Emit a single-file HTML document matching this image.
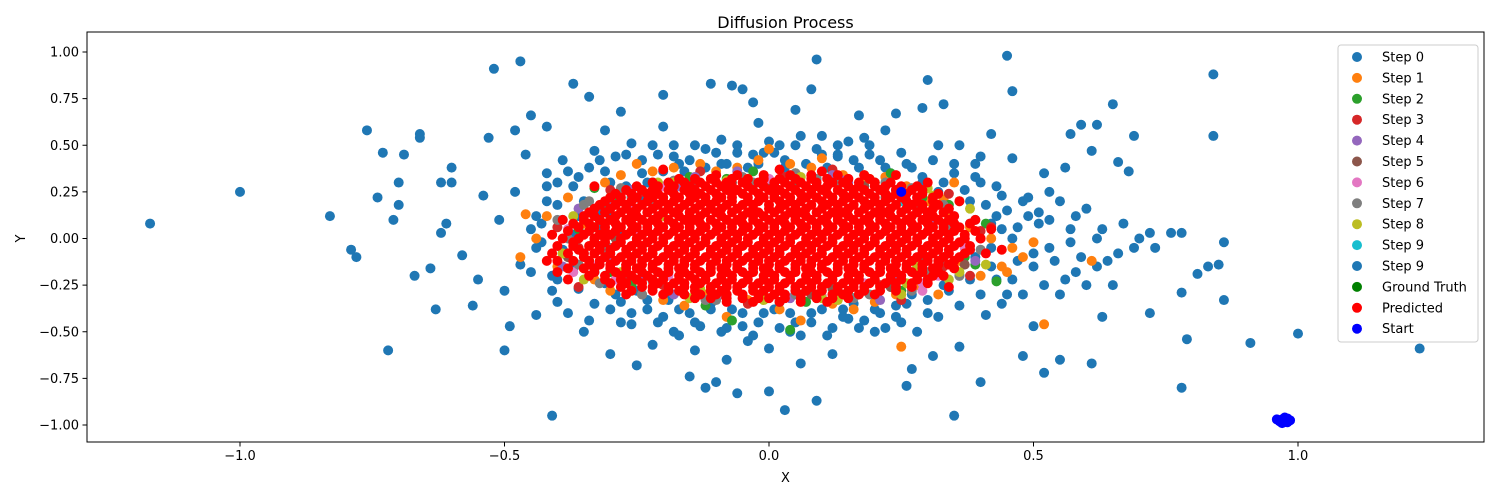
<!DOCTYPE html>
<html><head><meta charset="utf-8">
<style>
html,body{margin:0;padding:0;background:#fff;}
svg{display:block;font-family:"DejaVu Sans","Liberation Sans",sans-serif;}
</style></head>
<body>
<svg id="chart" width="1500" height="500" viewBox="0 0 1500 500" xmlns="http://www.w3.org/2000/svg">
<rect x="0" y="0" width="1500" height="500" fill="#fff"/>
<text x="785.5" y="28" font-size="16" text-anchor="middle" fill="#000">Diffusion Process</text>
<g id="plot"></g>
<g id="axes"></g>
<text x="785.5" y="482" font-size="13" text-anchor="middle">X</text>
<text x="25" y="238.5" font-size="13" text-anchor="middle" transform="rotate(-90 25 238.5)">Y</text>
<g id="legend"></g>
</svg>
<script>
// ---- data ----
const xTicks = [-1.0, -0.5, 0.0, 0.5, 1.0];
const xTickLabels = ["\u22121.0", "\u22120.5", "0.0", "0.5", "1.0"];
const yTicks = [1.0, 0.75, 0.5, 0.25, 0.0, -0.25, -0.5, -0.75, -1.0];
const yTickLabels = ["1.00", "0.75", "0.50", "0.25", "0.00", "\u22120.25", "\u22120.50", "\u22120.75", "\u22121.00"];
const legendLabels = ["Step 0","Step 1","Step 2","Step 3","Step 4","Step 5","Step 6","Step 7","Step 8","Step 9","Step 9","Ground Truth","Predicted","Start"];
const legendColors = ["#1f77b4","#ff7f0e","#2ca02c","#d62728","#9467bd","#8c564b","#e377c2","#7f7f7f","#bcbd22","#17becf","#1f77b4","#008000","#ff0000","#0000ff"];

const step0 = [[-1.17,0.08],[-1.0,0.25],[-0.83,0.12],[-0.79,-0.06],[-0.78,-0.1],[-0.76,0.58],[-0.74,0.22],[-0.73,0.46],[-0.72,-0.6],[-0.7,0.3],[-0.7,0.18],[-0.71,0.1],[-0.69,0.45],[-0.67,-0.2],[-0.66,0.56],[-0.66,0.54],[-0.64,-0.16],[-0.63,-0.38],[-0.62,0.3],[-0.62,0.03],[-0.6,0.38],[-0.6,0.3],[-0.61,0.08],[-0.58,-0.09],[-0.56,-0.36],[-0.55,-0.22],[-0.54,0.23],[-0.53,0.54],[-0.51,0.1],[-0.5,-0.28],[-0.5,-0.6],[-0.49,-0.47],[-0.48,0.58],[-0.47,0.95],[-0.52,0.91],[-0.48,0.25],[-0.47,-0.14],[-0.46,0.45],[-0.45,0.66],[-0.44,-0.41],[-0.43,0.08],[-0.42,0.6],[-0.41,-0.95],[-0.4,0.3],[-0.4,-0.34],[-0.38,0.36],[-0.37,0.83],[-0.36,0.12],[-0.35,-0.5],[-0.34,0.76],[-0.32,0.42],[-0.31,0.58],[-0.3,-0.62],[-0.28,-0.45],[-0.28,0.68],[-0.25,-0.68],[-0.24,0.2],[-0.22,-0.57],[-0.2,0.6],[-0.2,0.77],[-0.18,-0.5],[-0.17,0.4],[-0.15,-0.74],[-0.14,-0.6],[-0.12,-0.8],[-0.11,0.83],[-0.1,-0.77],[-0.09,0.53],[-0.08,-0.65],[-0.07,0.82],[-0.06,-0.83],[-0.05,0.8],[-0.04,-0.55],[-0.03,0.73],[-0.02,0.62],[-0.01,0.46],[0.0,-0.82],[0.0,-0.59],[0.02,0.5],[0.03,-0.92],[0.04,-0.5],[0.05,0.69],[0.06,-0.67],[0.08,0.8],[0.09,-0.87],[0.09,0.96],[0.1,0.55],[0.12,-0.62],[0.13,0.44],[0.15,-0.43],[0.17,0.66],[0.18,0.54],[0.2,-0.5],[0.22,0.58],[0.24,0.67],[0.25,-0.45],[0.26,-0.79],[0.27,-0.7],[0.29,0.7],[0.3,0.85],[0.31,-0.63],[0.32,0.5],[0.33,0.72],[0.35,-0.95],[0.36,-0.58],[0.38,0.2],[0.39,0.4],[0.4,-0.77],[0.41,-0.41],[0.42,0.56],[0.43,-0.22],[0.44,0.23],[0.45,0.98],[0.46,0.79],[0.46,0.43],[0.48,-0.63],[0.49,0.12],[0.5,-0.47],[0.51,0.08],[0.52,-0.72],[0.53,0.25],[0.55,-0.65],[0.56,0.38],[0.57,0.56],[0.58,-0.18],[0.59,0.61],[0.6,0.16],[0.61,0.47],[0.61,-0.67],[0.62,0.61],[0.63,-0.42],[0.65,-0.25],[0.65,0.72],[0.66,0.41],[0.68,0.36],[0.69,0.55],[0.7,0.0],[0.72,0.03],[0.72,-0.4],[0.76,0.03],[0.78,0.03],[0.78,-0.29],[0.79,-0.54],[0.78,-0.8],[0.81,-0.19],[0.83,-0.15],[0.84,0.88],[0.84,0.55],[0.85,-0.14],[0.86,-0.33],[0.86,-0.02],[0.91,-0.56],[1.0,-0.51],[1.23,-0.59],[0.73,-0.05],
[-0.45,0.05],[-0.44,-0.05],[-0.42,0.2],[-0.41,-0.2],[-0.39,0.1],[-0.38,-0.1],[-0.37,0.28],[-0.36,-0.27],[-0.34,0.38],[-0.33,-0.35],[-0.32,0.15],[-0.3,0.3],[-0.29,-0.3],[-0.27,0.45],[-0.26,-0.4],[-0.24,0.35],[-0.23,-0.33],[-0.21,0.45],[-0.2,-0.42],[-0.18,0.5],[-0.17,-0.38],[-0.15,0.42],[-0.14,-0.45],[-0.12,0.48],[-0.11,-0.35],[-0.09,0.4],[-0.08,-0.48],[-0.06,0.5],[-0.05,-0.4],[-0.03,0.45],[-0.02,-0.45],[0.0,0.52],[0.01,-0.38],[0.03,0.42],[0.05,-0.45],[0.06,0.55],[0.08,-0.4],[0.1,0.45],[0.11,-0.52],[0.13,0.5],[0.14,-0.38],[0.16,0.42],[0.17,-0.48],[0.19,0.45],[0.21,-0.4],[0.22,0.38],[0.24,-0.36],[0.26,0.4],[0.27,-0.3],[0.29,0.3],[0.3,-0.4],[0.32,0.25],[0.33,-0.25],[0.35,0.35],[0.36,-0.2],[0.38,0.08],[0.39,-0.1],[0.4,0.3],[0.42,-0.05],[0.43,0.12],[0.45,-0.3],[0.46,0.0],[0.48,0.2],[0.5,-0.15],[0.52,0.35],[0.53,-0.05],[0.55,-0.3],[0.57,0.05],[0.59,-0.1],[0.62,0.0],[0.64,-0.12],[0.67,0.08],[0.69,-0.05],
[-0.44,0.12],[-0.43,-0.02],[-0.42,0.28],[-0.41,-0.28],[-0.4,0.18],[-0.39,-0.06],[-0.39,0.42],[-0.38,-0.4],[-0.37,0.02],[-0.37,-0.16],[-0.36,0.33],[-0.35,0.2],[-0.35,-0.08],[-0.34,-0.44],[-0.33,0.47],[-0.33,-0.18],[-0.32,0.05],[-0.31,0.36],[-0.31,-0.24],[-0.3,0.12],[-0.3,-0.38],[-0.29,0.44],[-0.28,0.02],[-0.28,-0.34],[-0.27,0.28],[-0.26,0.51],[-0.26,-0.46],[-0.25,-0.28],[-0.24,0.42],[-0.23,0.3],[-0.23,-0.38],[-0.22,0.5],[-0.21,-0.45],[-0.2,0.36],[-0.19,-0.33],[-0.18,0.44],[-0.17,-0.52],[-0.16,0.36],[-0.15,-0.4],[-0.14,0.5],[-0.13,-0.47],[-0.12,0.38],[-0.11,-0.38],[-0.1,0.46],[-0.09,-0.5],[-0.08,0.4],[-0.07,-0.38],[-0.06,0.46],[-0.05,-0.47],[-0.04,0.38],[-0.03,-0.52],[-0.02,0.4],[-0.01,-0.4],[0.01,0.46],[0.02,-0.48],[0.03,0.38],[0.04,-0.4],[0.05,0.5],[0.06,-0.52],[0.07,0.4],[0.08,-0.45],[0.09,0.48],[0.1,-0.38],[0.11,0.38],[0.12,-0.48],[0.13,0.45],[0.14,-0.42],[0.15,0.52],[0.16,-0.35],[0.17,0.38],[0.18,-0.44],[0.19,0.5],[0.2,-0.38],[0.21,0.42],[0.22,-0.48],[0.23,0.35],[0.24,-0.42],[0.25,0.46],[0.26,-0.35],[0.27,0.38],[0.28,-0.5],[0.29,0.33],[0.3,-0.33],[0.31,0.42],[0.32,-0.42],[0.33,0.3],[0.34,-0.28],[0.35,0.4],[0.36,-0.36],[0.37,0.26],[0.38,-0.22],[0.39,0.33],[0.4,-0.3],[0.41,0.18],[0.42,-0.15],[0.43,0.28],[0.44,-0.35],[0.45,0.15],[0.46,-0.22],[0.47,0.06],[0.48,-0.3],[0.49,0.22],[0.5,-0.08],[0.51,0.14],[0.52,-0.25],[0.53,0.1],[0.54,-0.12],[0.55,0.2],[0.56,-0.22],[0.57,-0.02],[0.58,0.12],[0.6,-0.25],[0.62,-0.15],[0.63,0.05],[0.66,-0.08],[0.4,0.44],[0.36,0.5],[-0.4,-0.22],[-0.42,0.35],[0.44,0.05],[0.47,-0.12],[0.42,0.08],[-0.45,-0.18]];

const step1 = [[-0.47,-0.1],[-0.42,0.12],[-0.4,-0.15],[-0.38,0.22],[-0.37,-0.02],[-0.35,0.08],[-0.33,-0.22],[-0.31,0.3],[-0.3,-0.28],[-0.28,0.34],[-0.27,-0.15],[-0.25,0.4],[-0.24,-0.3],[-0.22,0.36],[-0.2,-0.33],[-0.18,0.38],[-0.16,-0.36],[-0.13,0.4],[-0.12,-0.3],[-0.1,0.36],[-0.08,-0.42],[-0.06,0.38],[-0.04,-0.33],[-0.02,0.42],[0.0,0.48],[0.02,-0.38],[0.04,0.4],[0.06,-0.44],[0.08,0.38],[0.1,0.43],[0.12,-0.35],[0.14,0.34],[0.16,-0.38],[0.18,0.3],[0.2,-0.34],[0.22,0.33],[0.24,-0.3],[0.25,-0.58],[0.26,0.28],[0.28,-0.25],[0.3,0.2],[0.32,-0.3],[0.34,0.12],[0.36,-0.12],[0.38,0.06],[0.4,-0.2],[0.42,0.0],[0.44,-0.15],[0.46,-0.05],[0.5,-0.02],[0.52,-0.46],[0.61,-0.12],[0.48,-0.1],[0.35,0.3],[0.45,-0.18],[-0.44,0.0],[-0.46,0.13],[0.33,0.21]];
const step2 = [[-0.36,0.05],[-0.33,0.27],[-0.3,-0.18],[-0.29,0.2],[-0.26,-0.25],[-0.22,0.3],[-0.19,-0.28],[-0.15,0.33],[-0.12,-0.36],[-0.08,0.32],[-0.07,-0.44],[-0.03,0.36],[0.02,-0.34],[0.05,0.35],[0.07,-0.34],[0.12,0.36],[0.15,-0.3],[0.2,0.3],[0.23,0.35],[0.25,-0.28],[0.29,0.22],[0.3,-0.22],[0.34,0.18],[0.37,-0.1],[0.39,-0.14],[0.41,0.08],[0.43,-0.23],[-0.39,-0.08],[0.04,-0.49],[-0.34,-0.12]];
const step3 = [[-0.32,0.1],[-0.27,-0.2],[-0.24,0.25],[-0.2,-0.25],[-0.14,0.3],[-0.09,-0.3],[0.03,0.33],[0.09,-0.3],[0.17,0.28],[0.21,-0.25],[0.28,0.15],[0.33,-0.15],[0.37,0.0],[0.4,0.04],[-0.36,-0.05],[-0.4,0.06],[-0.36,-0.26],[-0.3,0.26],[-0.13,0.36],[0.12,0.37],[0.34,0.24],[0.38,-0.2],[0.42,0.06],[0.25,-0.33],[-0.04,-0.35]];
const step4 = [[-0.3,0.2],[-0.24,-0.22],[-0.17,0.28],[-0.06,0.36],[0.05,-0.28],[0.15,0.3],[0.24,-0.2],[0.31,0.1],[-0.3,-0.1],[-0.36,0.16],[-0.34,-0.2],[-0.26,0.26],[-0.18,-0.3],[-0.14,0.33],[0.04,-0.32],[0.14,0.31],[0.27,-0.26],[0.34,0.16],[0.39,-0.12],[-0.39,-0.15],[0.21,-0.33],[0.12,0.34]];
const step5 = [[-0.29,0.0],[-0.21,0.24],[-0.11,-0.28],[0.0,0.3],[0.12,-0.27],[0.22,0.22],[0.29,-0.1],[0.35,0.08],[-0.38,-0.1],[-0.33,0.0],[-0.31,0.18],[-0.22,-0.26],[-0.07,0.3],[0.08,-0.3],[0.18,0.28],[0.23,-0.26],[0.33,0.06],[0.37,-0.14],[-0.27,-0.14],[0.05,0.31]];
const step6 = [[-0.33,-0.15],[-0.26,0.15],[-0.19,-0.2],[-0.1,0.3],[0.07,0.28],[0.18,-0.24],[0.26,0.2],[0.32,-0.2],[0.29,-0.28],[-0.37,-0.18],[-0.33,0.16],[-0.29,-0.22],[-0.2,0.28],[-0.1,-0.32],[0.0,0.32],[0.1,-0.31],[0.2,0.28],[0.29,-0.24],[0.35,0.12],[0.37,-0.05],[-0.38,0.05],[0.28,0.22],[-0.25,0.05]];
const step7 = [[-0.31,-0.05],[-0.26,0.22],[-0.22,-0.23],[-0.15,0.28],[-0.1,-0.33],[-0.03,0.3],[0.05,-0.3],[0.13,0.3],[0.19,-0.3],[0.27,0.27],[0.3,-0.18],[0.34,0.05],[0.38,-0.06],[-0.35,0.18],[0.24,-0.05],[0.33,0.18],[-0.38,0.0],[-0.36,-0.14],[-0.34,0.2],[-0.32,-0.24],[-0.28,0.27],[-0.24,-0.3],[-0.18,0.31],[-0.12,-0.33],[-0.05,0.33],[0.02,-0.34],[0.09,0.32],[0.16,-0.32],[0.22,0.3],[0.27,-0.28],[0.32,0.24],[0.36,-0.2],[0.39,0.1],[0.4,-0.06],[-0.4,0.1],[-0.22,0.2],[0.3,0.12],[-0.3,-0.05],[0.33,-0.1],[0.05,0.35],[-0.1,0.34]];
const step8 = [[-0.34,0.14],[-0.28,-0.18],[-0.18,0.3],[-0.13,-0.27],[-0.04,0.32],[0.1,-0.32],[0.18,0.34],[0.26,-0.24],[0.31,0.23],[0.36,-0.18],[-0.2,0.12],[-0.39,-0.08],[-0.37,0.12],[-0.35,-0.22],[-0.3,0.22],[-0.26,-0.28],[-0.21,0.3],[-0.15,-0.32],[-0.08,0.31],[-0.01,-0.33],[0.06,0.33],[0.13,-0.33],[0.19,0.32],[0.25,-0.3],[0.3,0.27],[0.34,-0.22],[0.38,0.16],[0.41,-0.14],[0.36,0.2],[-0.33,0.06],[0.28,-0.15]];
const step9a = [[0.25,0.2]];
const step9b = [[0.24,0.26]];
const groundTruth = [];
const predRows = [
 [0.34, "-0.1 -0.06 -0.01 0.04 0.08 0.13 0.18"],
 [0.32, "-0.17 -0.14 -0.11 -0.07 -0.04 -0.01 0.02 0.05 0.08 0.11 0.15 0.19"],
 [0.30, "-0.22 -0.19 -0.16 -0.13 -0.1 -0.08 -0.05 -0.02 0.01 0.03 0.06 0.09 0.12 0.14 0.17 0.2 0.23"],
 [0.28, "-0.25 -0.21 -0.18 -0.15 -0.12 -0.09 -0.07 -0.04 -0.01 0.01 0.04 0.07 0.09 0.11 0.15 0.17 0.2 0.22 0.25 0.28"],
 [0.26, "-0.27 -0.24 -0.22 -0.19 -0.16 -0.14 -0.11 -0.08 -0.06 -0.03 0.0 0.02 0.05 0.08 0.1 0.13 0.16 0.18 0.21 0.24 0.27 0.29"],
 [0.24, "-0.29 -0.26 -0.23 -0.21 -0.18 -0.15 -0.13 -0.1 -0.07 -0.05 -0.02 0.01 0.03 0.06 0.08 0.11 0.14 0.16 0.19 0.22 0.24 0.26 0.29 0.32"],
 [0.22, "-0.3 -0.28 -0.25 -0.22 -0.2 -0.17 -0.14 -0.12 -0.09 -0.07 -0.04 -0.01 0.01 0.04 0.07 0.09 0.12 0.15 0.17 0.2 0.23 0.25 0.28 0.31"],
 [0.20, "-0.31 -0.28 -0.26 -0.23 -0.2 -0.18 -0.15 -0.12 -0.1 -0.07 -0.04 -0.02 0.02 0.04 0.06 0.1 0.12 0.14 0.18 0.2 0.22 0.26 0.28 0.31"],
 [0.18, "-0.32 -0.29 -0.27 -0.24 -0.21 -0.19 -0.16 -0.13 -0.11 -0.08 -0.05 -0.03 0.0 0.03 0.05 0.08 0.11 0.13 0.16 0.19 0.21 0.24 0.27 0.29 0.32"],
 [0.16, "-0.33 -0.3 -0.27 -0.25 -0.22 -0.19 -0.17 -0.14 -0.11 -0.09 -0.06 -0.03 0.0 0.02 0.05 0.07 0.1 0.13 0.15 0.18 0.21 0.23 0.26 0.29 0.31 0.34"],
 [0.14, "-0.34 -0.31 -0.28 -0.26 -0.23 -0.2 -0.18 -0.15 -0.12 -0.1 -0.07 -0.04 -0.02 0.01 0.04 0.06 0.09 0.12 0.14 0.17 0.2 0.22 0.25 0.28 0.3 0.33"],
 [0.12, "-0.35 -0.33 -0.29 -0.26 -0.25 -0.21 -0.17 -0.15 -0.13 -0.09 -0.05 -0.03 -0.01 0.03 0.05 0.07 0.11 0.13 0.15 0.19 0.21 0.23 0.27 0.3 0.31 0.35"],
 [0.10, "-0.35 -0.32 -0.3 -0.27 -0.24 -0.22 -0.19 -0.16 -0.14 -0.11 -0.08 -0.06 -0.03 0.0 0.02 0.05 0.08 0.1 0.13 0.16 0.18 0.21 0.24 0.26 0.29 0.32 0.34"],
 [0.08, "-0.37 -0.34 -0.31 -0.29 -0.26 -0.23 -0.21 -0.18 -0.15 -0.13 -0.1 -0.07 -0.05 -0.02 0.01 0.03 0.06 0.09 0.11 0.14 0.17 0.19 0.22 0.25 0.27 0.3 0.33 0.35 0.38"],
 [0.06, "-0.36 -0.33 -0.31 -0.28 -0.25 -0.23 -0.2 -0.17 -0.15 -0.12 -0.09 -0.07 -0.04 -0.01 0.01 0.04 0.07 0.09 0.12 0.15 0.17 0.2 0.23 0.25 0.28 0.31 0.33 0.36"],
 [0.04, "-0.38 -0.34 -0.31 -0.29 -0.26 -0.23 -0.21 -0.18 -0.15 -0.13 -0.1 -0.07 -0.05 -0.02 0.01 0.03 0.06 0.09 0.11 0.14 0.17 0.19 0.22 0.25 0.27 0.3 0.33 0.35 0.39"],
 [0.02, "-0.35 -0.32 -0.3 -0.27 -0.24 -0.22 -0.19 -0.16 -0.14 -0.11 -0.08 -0.06 -0.03 0.0 0.02 0.05 0.08 0.1 0.13 0.16 0.18 0.21 0.24 0.26 0.29 0.32 0.34 0.37"],
 [0.0, "-0.39 -0.36 -0.33 -0.31 -0.28 -0.25 -0.22 -0.2 -0.17 -0.14 -0.12 -0.09 -0.06 -0.04 -0.01 0.02 0.04 0.07 0.1 0.12 0.15 0.18 0.2 0.23 0.26 0.28 0.31 0.34 0.37 0.4"],
 [-0.02, "-0.37 -0.33 -0.31 -0.28 -0.25 -0.23 -0.2 -0.17 -0.15 -0.12 -0.09 -0.07 -0.04 -0.01 0.01 0.04 0.07 0.09 0.12 0.15 0.17 0.2 0.23 0.25 0.28 0.31 0.33 0.36"],
 [-0.04, "-0.4 -0.37 -0.34 -0.32 -0.29 -0.26 -0.24 -0.21 -0.18 -0.16 -0.13 -0.1 -0.08 -0.05 -0.02 0.0 0.03 0.06 0.08 0.11 0.14 0.16 0.19 0.22 0.24 0.27 0.3 0.32 0.35 0.38"],
 [-0.06, "-0.36 -0.32 -0.3 -0.27 -0.24 -0.22 -0.19 -0.16 -0.14 -0.11 -0.08 -0.06 -0.03 0.0 0.02 0.05 0.08 0.1 0.13 0.16 0.18 0.21 0.24 0.26 0.29 0.32 0.34 0.38"],
 [-0.08, "-0.41 -0.38 -0.35 -0.33 -0.3 -0.27 -0.25 -0.22 -0.19 -0.17 -0.14 -0.11 -0.09 -0.06 -0.03 -0.01 0.02 0.05 0.07 0.1 0.13 0.15 0.18 0.21 0.23 0.26 0.29 0.31 0.34 0.37"],
 [-0.10, "-0.35 -0.31 -0.28 -0.26 -0.23 -0.2 -0.18 -0.15 -0.12 -0.1 -0.07 -0.04 -0.02 0.01 0.04 0.06 0.09 0.12 0.14 0.17 0.2 0.22 0.25 0.28 0.3 0.33 0.36"],
 [-0.12, "-0.4 -0.37 -0.34 -0.32 -0.29 -0.26 -0.24 -0.21 -0.18 -0.16 -0.13 -0.1 -0.08 -0.05 -0.02 0.0 0.03 0.06 0.08 0.11 0.14 0.16 0.19 0.22 0.24 0.27 0.3 0.32 0.35"],
 [-0.14, "-0.34 -0.32 -0.3 -0.27 -0.24 -0.22 -0.19 -0.16 -0.14 -0.11 -0.08 -0.06 -0.03 0.0 0.02 0.05 0.08 0.1 0.13 0.16 0.18 0.21 0.24 0.26 0.29 0.32 0.34"],
 [-0.16, "-0.38 -0.35 -0.33 -0.3 -0.27 -0.25 -0.22 -0.19 -0.17 -0.14 -0.11 -0.09 -0.06 -0.03 -0.01 0.02 0.05 0.07 0.1 0.13 0.15 0.18 0.21 0.23 0.26 0.29 0.31 0.35"],
 [-0.18, "-0.33 -0.29 -0.27 -0.24 -0.21 -0.19 -0.16 -0.13 -0.11 -0.08 -0.05 -0.03 0.0 0.03 0.05 0.08 0.11 0.13 0.16 0.19 0.21 0.24 0.27 0.29 0.32"],
 [-0.20, "-0.34 -0.31 -0.28 -0.26 -0.23 -0.2 -0.17 -0.15 -0.12 -0.09 -0.07 -0.04 -0.01 0.01 0.04 0.07 0.09 0.12 0.15 0.17 0.2 0.23 0.25 0.28 0.31 0.33"],
 [-0.22, "-0.31 -0.28 -0.25 -0.22 -0.2 -0.17 -0.14 -0.12 -0.09 -0.07 -0.04 -0.01 0.01 0.04 0.07 0.09 0.12 0.15 0.17 0.2 0.23 0.25 0.28 0.3"],
 [-0.24, "-0.3 -0.27 -0.24 -0.21 -0.18 -0.16 -0.13 -0.1 -0.08 -0.05 -0.02 0.0 0.03 0.06 0.08 0.11 0.14 0.16 0.19 0.22 0.24 0.27 0.3"],
 [-0.26, "-0.28 -0.24 -0.22 -0.19 -0.16 -0.14 -0.11 -0.08 -0.06 -0.03 0.0 0.02 0.05 0.08 0.1 0.13 0.16 0.18 0.21 0.24 0.27"],
 [-0.28, "-0.26 -0.22 -0.19 -0.17 -0.14 -0.11 -0.09 -0.06 -0.03 -0.01 0.02 0.05 0.07 0.1 0.13 0.15 0.18 0.21 0.24"],
 [-0.30, "-0.2 -0.16 -0.13 -0.1 -0.08 -0.05 -0.02 0.01 0.03 0.06 0.09 0.12 0.14 0.17 0.2"],
 [-0.32, "-0.14 -0.11 -0.08 -0.05 -0.02 0.0 0.03 0.06 0.09 0.12 0.15"],
 [-0.34, "-0.08 -0.03 0.02 0.06 0.11"]
];
const predExtra = [[-0.42,-0.12],[-0.4,-0.18],[-0.41,0.02],[-0.39,0.1],[0.4,0.0],[0.41,-0.08],[0.39,0.1],[0.36,0.2],[0.24,0.34],[0.1,0.36],[-0.33,0.28],[-0.38,-0.22],[0.34,-0.26],[0.44,-0.06],[-0.2,0.37],[0.02,0.37],[-0.27,-0.3],[0.3,0.3],[0.42,0.05]];
const startPts = [[0.97,-0.97],[0.975,-0.98],[0.98,-0.965],[0.965,-0.98],[0.97,-0.99],[0.98,-0.985],[0.985,-0.975],[0.96,-0.97],[0.975,-0.96],[0.25,0.25]];

// ---- scales ----
const PL=87, PR=1484, PT=32, PB=442;
const X0=769, XS=529, Y0=238.5, YS=186.5;
function sx(v){return X0+XS*v;}
function sy(v){return Y0-YS*v;}
const NS="http://www.w3.org/2000/svg";
function mk(tag, attrs, parent){const e=document.createElementNS(NS,tag);for(const k in attrs)e.setAttribute(k,attrs[k]);parent.appendChild(e);return e;}

const plot=document.getElementById('plot');
const axes=document.getElementById('axes');
const R=5;

function drawSeries(pts,color,name){
  const g=mk('g',{},plot);
  
  
  pts.forEach(p=>{
    const c=mk('circle',{cx:sx(p[0]),cy:sy(p[1]),r:R,fill:color},g);
    
    
  });
}
const predPts=[];
predRows.forEach(r=>{r[1].split(' ').forEach(x=>predPts.push([parseFloat(x),r[0]]));});
predExtra.forEach(p=>predPts.push(p));

drawSeries(step0,legendColors[0],'step-0');
drawSeries(step1,legendColors[1],'step-1');
drawSeries(step2,legendColors[2],'step-2');
drawSeries(step3,legendColors[3],'step-3');
drawSeries(step4,legendColors[4],'step-4');
drawSeries(step5,legendColors[5],'step-5');
drawSeries(step6,legendColors[6],'step-6');
drawSeries(step7,legendColors[7],'step-7');
drawSeries(step8,legendColors[8],'step-8');
drawSeries(step9a,legendColors[9],'step-9a');
drawSeries(step9b,legendColors[10],'step-9b');
drawSeries(groundTruth,legendColors[11],'ground-truth');
drawSeries(predPts,legendColors[12],'predicted');
drawSeries(startPts,legendColors[13],'start');

// frame
const fr=mk('rect',{x:PL,y:PT,width:PR-PL,height:PB-PT,fill:'none',stroke:'#000','stroke-width':1},axes);



xTicks.forEach((t,i)=>{
  const x=sx(t);
  const l=mk('line',{x1:x,x2:x,y1:PB,y2:PB+4.5,stroke:'#000','stroke-width':1},axes);
  
  
  const tx=mk('text',{x:x,y:PB+18,'font-size':13,'text-anchor':'middle'},axes);
  tx.textContent=xTickLabels[i];
  
  
});
yTicks.forEach((t,i)=>{
  const y=sy(t);
  const l=mk('line',{x1:PL-4.5,x2:PL,y1:y,y2:y,stroke:'#000','stroke-width':1},axes);
  
  
  const tx=mk('text',{x:PL-8,y:y+4.5,'font-size':13,'text-anchor':'end'},axes);
  tx.textContent=yTickLabels[i];
  
  
});

// legend
const lg=document.getElementById('legend');
const box=mk('rect',{x:1338,y:45,width:140,height:297,rx:3,fill:'#fff','fill-opacity':0.8,stroke:'#ccc','stroke-width':1},lg);


legendLabels.forEach((lab,i)=>{
  const y=57+20.9*i;
  const g=mk('g',{},lg);
  
  
  mk('circle',{cx:1357,cy:y,r:R,fill:legendColors[i]},g);
  const t=mk('text',{x:1382,y:y+4.5,'font-size':13},g);
  t.textContent=lab;
});
</script>
</body></html>
